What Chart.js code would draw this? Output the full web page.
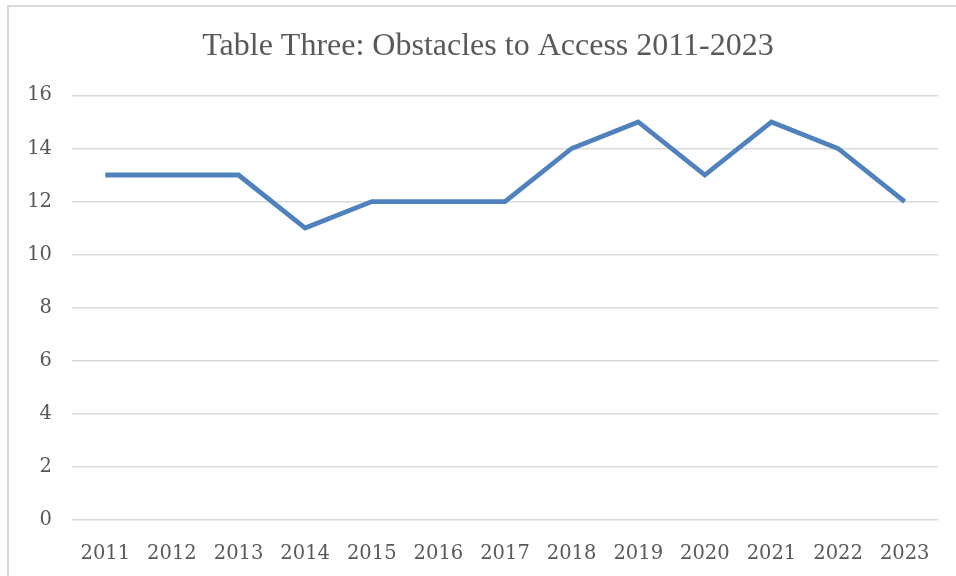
<!DOCTYPE html>
<html>
<head>
<meta charset="utf-8">
<script src="https://cdn.jsdelivr.net/npm/chart.js@4"></script>
<style>
  html, body { margin: 0; padding: 0; background: #fff; }
  #wrap { position: relative; width: 956px; height: 576px; overflow: hidden; }
  #frame { position: absolute; left: 7px; top: 5px; width: 1000px; height: 640px;
           border: 2px solid #d9d9d9; box-sizing: border-box; pointer-events: none; }
  canvas { position: absolute; left: 0; top: 0; }
</style>
</head>
<body>
<div id="wrap">
  <canvas id="chart" width="956" height="576"></canvas>
  <div id="frame"></div>
</div>
<script>
const years = ["2011", "2012", "2013", "2014", "2015", "2016", "2017", "2018", "2019", "2020", "2021", "2022", "2023"];
const obstacles = [13, 13, 13, 11, 12, 12, 12, 14, 15, 13, 15, 14, 12];
const lineColor = "#4f81bd";
const gray = "#595959";

// nudge the title a bit to the right, like the original
const titleShift = {
  id: "titleShift",
  afterLayout(chart) {
    if (chart.titleBlock) chart.titleBlock.left += 14;
  },
};

new Chart(document.getElementById("chart"), {
  type: "line",
  data: {
    labels: years,
    datasets: [
      {
        data: obstacles,
        borderColor: lineColor,
        borderWidth: 4.8,
        pointRadius: 0,
        tension: 0,
        borderJoinStyle: "miter",
      },
    ],
  },
  options: {
    responsive: false,
    animation: false,
    layout: { padding: { left: 24, right: 18, top: 27, bottom: 11 } },
    plugins: {
      legend: { display: false },
      tooltip: { enabled: false },
      title: {
        display: true,
        text: "Table Three: Obstacles to Access 2011-2023",
        color: gray,
        font: { family: "Liberation Serif", size: 32, weight: "normal" },
        padding: { top: 0, bottom: 30 },
      },
    },
    scales: {
      x: {
        offset: true,
        afterFit: (s) => { s.height = 45; },
        grid: { display: false },
        border: { display: false },
        ticks: { color: gray, font: { family: "DejaVu Serif", size: 19.5 }, padding: 14, maxRotation: 0 },
      },
      y: {
        min: 0,
        max: 16,
        afterFit: (s) => { s.width = 48; },
        grid: { color: "#d9d9d9", lineWidth: 1.5, drawTicks: false },
        border: { display: false },
        ticks: { stepSize: 2, color: gray, font: { family: "DejaVu Serif", size: 19.5 }, padding: 20 },
      },
    },
  },
  plugins: [titleShift],
});
</script>
</body>
</html>
